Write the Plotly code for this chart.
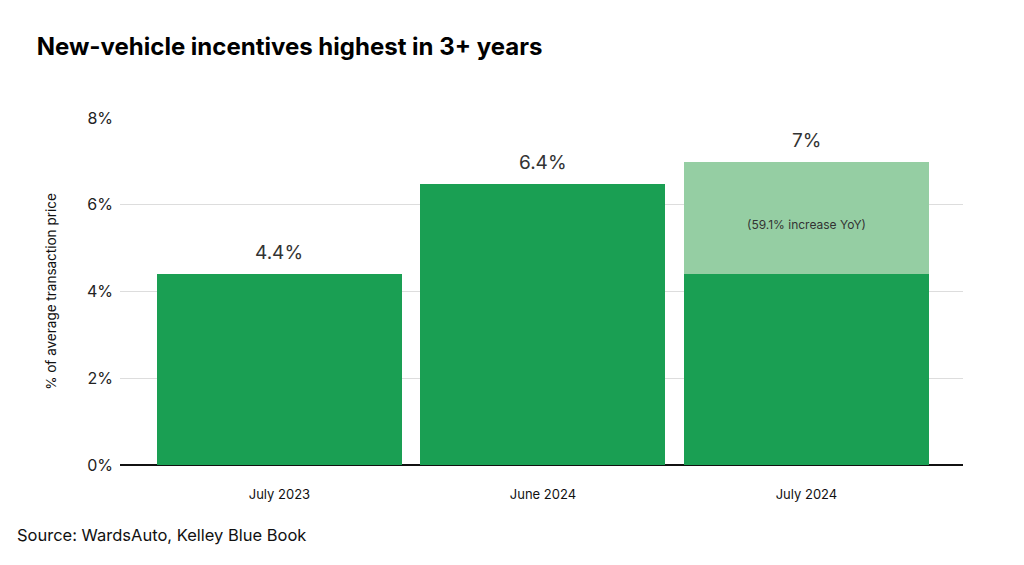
import plotly.graph_objects as go

# data
categories = ["July 2023", "June 2024", "July 2024"]
base_values = [4.4, 6.47, 4.4]          # dark green part
increase_values = [0, 0, 2.58]          # light green part (YoY increase)
value_labels = ["4.4%", "6.4%", "7%"]
yoy_note = "(59.1% increase YoY)"
y_ticks = [0, 2, 4, 6, 8]
y_tick_text = ["0%", "2%", "4%", "6%", "8%"]

dark_green = "#1a9f53"
light_green = "#95cea3"
font_family = "Inter, Roboto, Arial, sans-serif"

fig = go.Figure()
fig.add_trace(go.Bar(
    x=categories, y=base_values,
    marker=dict(color=dark_green, line=dict(width=0)),
    width=0.93, hoverinfo="skip"
))
fig.add_trace(go.Bar(
    x=categories, y=increase_values,
    marker=dict(color=light_green, line=dict(width=0)),
    width=0.93, hoverinfo="skip"
))

totals = [b + i for b, i in zip(base_values, increase_values)]
for cat, tot, lab in zip(categories, totals, value_labels):
    fig.add_annotation(
        x=cat, y=tot, text=lab, showarrow=False,
        yanchor="bottom", yshift=8,
        font=dict(size=19, color="#333333", family=font_family)
    )

# note inside the light green segment
fig.add_annotation(
    x=categories[2], y=base_values[2] + increase_values[2] / 2,
    text=yoy_note, showarrow=False, yshift=-6,
    font=dict(size=12, color="#333333", family=font_family)
)

fig.update_layout(
    barmode="stack",
    width=1024, height=565,
    margin=dict(l=112, r=69, t=110, b=108),
    paper_bgcolor="white", plot_bgcolor="white",
    showlegend=False,
    font=dict(family=font_family, color="#111111"),
    title=dict(
        text="<b>New-vehicle incentives highest in 3+ years</b>",
        x=0.028, xanchor="left", y=0.931, yanchor="middle",
        font=dict(size=24, color="#000000", family=font_family)
    ),
    xaxis=dict(
        range=[-0.605, 2.594], showgrid=False, ticks="",
        tickfont=dict(size=13, color="#111111"),
        ticklabelstandoff=20
    ),
    yaxis=dict(
        range=[0, 8], tickvals=y_ticks, ticktext=y_tick_text,
        showgrid=True, gridcolor="#dddddd", gridwidth=1,
        zeroline=True, zerolinecolor="#111111", zerolinewidth=2,
        tickfont=dict(size=16, color="#222222"),
        ticklabelstandoff=6,
        title=dict(text="% of average transaction price", standoff=27,
                   font=dict(size=13.5, color="#111111"))
    ),
)

fig.add_annotation(
    text="Source: WardsAuto, Kelley Blue Book",
    xref="paper", yref="paper", x=-0.124, y=-0.202,
    xanchor="left", yanchor="middle", showarrow=False,
    font=dict(size=16.5, color="#111111", family=font_family)
)

fig.write_html("out.html")
